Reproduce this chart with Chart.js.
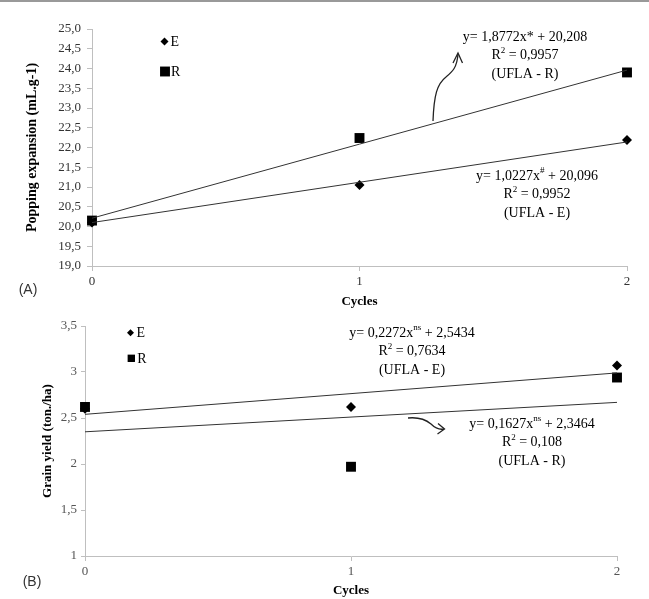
<!DOCTYPE html>
<html>
<head>
<meta charset="utf-8">
<script src="https://cdn.jsdelivr.net/npm/chart.js@4.4.0/dist/chart.umd.min.js"></script>
<style>
  html, body { margin: 0; padding: 0; background: #fff; }
  #wrap { position: relative; width: 649px; height: 599px; overflow: hidden; }
  #topline { position: absolute; left: 0; top: 0; width: 649px; height: 2px; background: #999; }
  canvas { position: absolute; left: 0; }
  #popChart { top: 0; }
  #yieldChart { top: 312px; }
</style>
</head>
<body>
<div id="wrap">
  <div id="topline"></div>
  <canvas id="popChart" width="649" height="312"></canvas>
  <canvas id="yieldChart" width="649" height="287"></canvas>
</div>
<script>
// ---- données ----
const CYCLES = [0, 1, 2];
const FIT_X = [0, 2];

// (A) expansion
const POP_E = [20.10, 21.05, 22.19];
const POP_R = [20.15, 22.24, 23.90];
const POP_FIT_E = [20.10, 22.14];
const POP_FIT_R = [20.21, 23.96];

// (B) rendement
const YIELD_E = [2.60, 2.62, 3.07];
const YIELD_R = [2.62, 1.97, 2.94];
const YIELD_FIT_E = [2.54, 2.99];
const YIELD_FIT_R = [2.35, 2.67];

const SERIF = '"Liberation Serif", "Times New Roman", serif';
const SANS = '"Liberation Sans", Arial, sans-serif';
const INK = '#000';
const AXIS = '#bfbfbf';

function pts(xs, ys) {
  return xs.map((x, i) => ({ x, y: ys[i] }));
}

function fitDataset(xs, ys) {
  return {
    data: pts(xs, ys), showLine: true, pointRadius: 0,
    borderColor: '#333', borderWidth: 1, clip: false,
  };
}

function pointDataset(ys, style) {
  const square = style === 'rect';
  return {
    data: pts(CYCLES, ys), showLine: false,
    pointStyle: style, pointRadius: square ? 7 : 5, pointHoverRadius: square ? 7 : 5,
    backgroundColor: INK, borderColor: INK, borderWidth: 0, clip: false,
  };
}

// texte avec exposants : parts = [[texte, exposant?], ...]
function eqLine(ctx, parts, cx, cy) {
  const widths = parts.map(([t, sup]) => {
    ctx.font = (sup ? '9px ' : '14px ') + SERIF;
    return ctx.measureText(t).width;
  });
  let x = cx - widths.reduce((a, b) => a + b, 0) / 2;
  parts.forEach(([t, sup], i) => {
    ctx.font = (sup ? '9px ' : '14px ') + SERIF;
    ctx.fillText(t, x, sup ? cy - 5 : cy);
    x += widths[i];
  });
}

function eqBlock(ctx, lines, cx, cy) {
  lines.forEach((parts, i) => eqLine(ctx, parts, cx, cy + i * 18.5));
}

function legendItem(ctx, style, radius, x, y, label) {
  ctx.fillStyle = INK;
  Chart.helpers.drawPoint(ctx, { pointStyle: style, radius, rotation: 0, borderWidth: 0 }, x, y);
  ctx.font = '14px ' + SERIF;
  ctx.fillText(label, x + 6, y + 1);
}

function arrow(ctx, path, head) {
  ctx.save();
  ctx.strokeStyle = '#222';
  ctx.lineWidth = 1.3;
  ctx.beginPath();
  ctx.moveTo(path[0], path[1]);
  for (let i = 2; i < path.length; i += 6) {
    ctx.bezierCurveTo(path[i], path[i + 1], path[i + 2], path[i + 3], path[i + 4], path[i + 5]);
  }
  ctx.stroke();
  ctx.beginPath();
  ctx.moveTo(head[0], head[1]);
  ctx.lineTo(head[2], head[3]);
  ctx.lineTo(head[4], head[5]);
  ctx.stroke();
  ctx.restore();
}

function notesPlugin(drawFn) {
  return {
    id: 'notes',
    afterDraw(chart) {
      const ctx = chart.ctx;
      ctx.save();
      ctx.fillStyle = INK;
      ctx.textAlign = 'left';
      ctx.textBaseline = 'middle';
      drawFn(ctx);
      ctx.restore();
    }
  };
}

function baseOptions(o) {
  return {
    responsive: false,
    animation: false,
    events: [],
    layout: { padding: o.padding },
    plugins: { legend: { display: false }, tooltip: { enabled: false } },
    scales: {
      x: {
        type: 'linear', min: 0, max: 2,
        border: { color: AXIS },
        grid: { drawOnChartArea: false, color: AXIS, tickLength: 5 },
        ticks: {
          stepSize: 1, color: o.tickInk, padding: 3,
          font: { family: SERIF, size: 13 },
          callback: v => String(v),
        },
        title: {
          display: true, text: 'Cycles', color: INK,
          font: { family: SERIF, size: 13, weight: 'bold' },
          padding: { top: 0, bottom: o.xTitlePad },
        },
        afterFit: s => { s.height = o.xHeight; },
      },
      y: {
        min: o.yMin, max: o.yMax,
        border: { color: AXIS },
        grid: { drawOnChartArea: false, color: AXIS, tickLength: o.yTick },
        ticks: {
          stepSize: 0.5, color: o.tickInk, padding: o.yTickPad,
          font: { family: SERIF, size: 13 },
          callback: o.yFormat,
        },
        title: {
          display: true, text: o.yTitle, color: INK,
          font: { family: SERIF, size: o.yTitleSize, weight: 'bold' },
          padding: { top: o.yTitlePad, bottom: 0 },
        },
        afterFit: s => { s.width = o.yWidth; },
      }
    }
  };
}

// ---- (A) ----
new Chart(document.getElementById('popChart'), {
  type: 'scatter',
  data: {
    datasets: [
      fitDataset(FIT_X, POP_FIT_R),
      fitDataset(FIT_X, POP_FIT_E),
      pointDataset(POP_E, 'rectRot'),
      pointDataset(POP_R, 'rect'),
    ]
  },
  options: baseOptions({
    padding: { left: 0, top: 29, right: 22, bottom: 0 },
    xHeight: 46, xTitlePad: 3, tickInk: '#333',
    yMin: 19, yMax: 25, yWidth: 92, yTick: 5, yTickPad: 6,
    yTitle: 'Popping expansion (mL.g-1)', yTitleSize: 14, yTitlePad: 24,
    yFormat: v => v.toFixed(1).replace('.', ','),
  }),
  plugins: [notesPlugin(ctx => {
    legendItem(ctx, 'rectRot', 4, 164.5, 41.5, 'E');
    legendItem(ctx, 'rect', 7, 165, 71.5, 'R');
    eqBlock(ctx, [
      [['y= 1,8772x* + 20,208']],
      [['R'], ['2', true], [' = 0,9957']],
      [['(UFLA - R)']],
    ], 525, 37);
    eqBlock(ctx, [
      [['y= 1,0227x'], ['#', true], [' + 20,096']],
      [['R'], ['2', true], [' = 0,9952']],
      [['(UFLA - E)']],
    ], 537, 176);
    arrow(ctx, [433, 121, 434, 95, 437, 84, 446, 77, 452, 72, 457, 68, 458, 54],
      [453, 63, 458, 53, 462.5, 63]);
    ctx.fillStyle = '#333';
    ctx.font = '14px ' + SANS;
    ctx.textAlign = 'center';
    ctx.fillText('(A)', 28, 290);
  })]
});

// ---- (B) ----
new Chart(document.getElementById('yieldChart'), {
  type: 'scatter',
  data: {
    datasets: [
      fitDataset(FIT_X, YIELD_FIT_E),
      fitDataset(FIT_X, YIELD_FIT_R),
      pointDataset(YIELD_E, 'rectRot'),
      pointDataset(YIELD_R, 'rect'),
    ]
  },
  options: baseOptions({
    padding: { left: 0, top: 14, right: 32, bottom: 0 },
    xHeight: 43, xTitlePad: 1, tickInk: '#555',
    yMin: 1, yMax: 3.5, yWidth: 85, yTick: 4, yTickPad: 4,
    yTitle: 'Grain yield (ton./ha)', yTitleSize: 13, yTitlePad: 40,
    yFormat: v => String(v).replace('.', ','),
  }),
  plugins: [notesPlugin(ctx => {
    // coordonnées locales : y page - 312
    legendItem(ctx, 'rectRot', 3.5, 130.5, 20.7, 'E');
    legendItem(ctx, 'rect', 5.2, 131.3, 46.3, 'R');
    eqBlock(ctx, [
      [['y= 0,2272x'], ['ns', true], [' + 2,5434']],
      [['R'], ['2', true], [' = 0,7634']],
      [['(UFLA - E)']],
    ], 412, 21);
    eqBlock(ctx, [
      [['y= 0,1627x'], ['ns', true], [' + 2,3464']],
      [['R'], ['2', true], [' = 0,108']],
      [['(UFLA - R)']],
    ], 532, 112);
    arrow(ctx, [408, 106, 418, 105, 425, 107, 431, 112, 435, 116, 439, 118, 444, 117],
      [438, 111.5, 444.5, 117, 437.5, 122]);
    ctx.fillStyle = '#333';
    ctx.font = '14px ' + SANS;
    ctx.textAlign = 'center';
    ctx.fillText('(B)', 32, 270);
  })]
});
</script>
</body>
</html>
